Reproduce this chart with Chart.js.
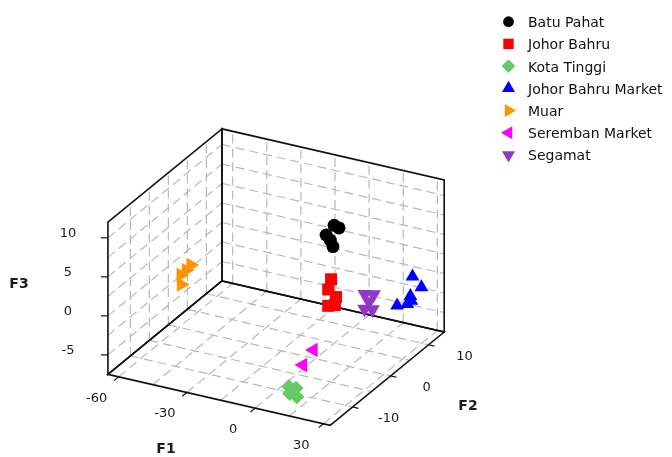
<!DOCTYPE html>
<html>
<head>
<meta charset="utf-8">
<script src="https://cdn.jsdelivr.net/npm/chart.js"></script>
<style>
  html, body { margin: 0; padding: 0; background: #ffffff; }
  #wrap { width: 672px; height: 457px; position: relative; }
</style>
</head>
<body>
<div id="wrap"><canvas id="c" width="672" height="457"></canvas></div>
<script>
// ---------- data (F1, F2, F3 scores per group) ----------
const seriesNames = ['Batu Pahat', 'Johor Bahru', 'Kota Tinggi', 'Johor Bahru Market', 'Muar', 'Seremban Market', 'Segamat'];

const batuPahatF1 = [10, 10, 10, 10, 10];
const batuPahatF2 = [-1.1, 0.2, -3.2, -2.1, -1.4];
const batuPahatF3 = [10.7, 9.85, 10.3, 9.2, 8.1];

const johorBahruF1 = [10, 10, 10, 10, 10];
const johorBahruF2 = [-1.9, -2.65, -0.6, -2.65, -0.9];
const johorBahruF3 = [4.1, 3.1, 1.3, 1.0, 0.4];

const kotaTinggiF1 = [10, 10, 10, 10, 10];
const kotaTinggiF2 = [-13.0, -11.1, -12.8, -10.9, -12.0];
const kotaTinggiF3 = [-5.2, -6.2, -6.2, -7.36, -6.13];

const jbMarketF1 = [25, 28, 25, 25, 25, 25];
const jbMarketF2 = [10.55, 11.1, 10.0, 10.25, 6.5, 9.2];
const jbMarketF3 = [0.5, -0.9, -1.8, -2.5, -1.6, -2.5];

const muarF1 = [-60, -60, -60, -60];
const muarF2 = [3.1, 1.85, 0.47, 0.57];
const muarF3 = [-0.75, -0.9, -0.97, -2.24];

const serembanF1 = [5, 5];
const serembanF2 = [-3.55, -6.3];
const serembanF3 = [-4.64, -5.48];

const segamatF1 = [15, 15, 15, 15, 15];
const segamatF2 = [4.0, 6.3, 5.1, 3.9, 6.0];
const segamatF3 = [0.15, -0.77, -1.24, -1.7, -2.6];

// axis ranges, ticks and grid values
const f1Range = [-64.7, 33];
const f2Range = [-15.9, 14.1];
const f3Range = [-7.5, 12];
const f1Ticks = [-60, -30, 0, 30];
const f2Ticks = [-10, 0, 10];
const f3Ticks = [-5, 0, 5, 10];
const f1Grid = [-60, -45, -30, -15, 0, 15, 30];
const f2Grid = [-10, -5, 0, 5, 10];
const f3Grid = [-5, -2.5, 0, 2.5, 5, 7.5, 10];

// ---------- styling ----------
const colors = ['#000000', '#ff0000', '#66c866', '#0000ff', '#ff9400', '#ff00ff', '#9138c8'];
const styles = ['circle', 'rect', 'rectRot', 'triangle', 'triangle', 'triangle', 'triangle'];
const rotations = [0, 0, 0, 0, 90, 270, 180];
const radii = [6.5, 8.5, 7.5, 8, 8.5, 8.5, 8.5];

// oblique projection of the box (layout, in the chart's abstract plane units)
const ORIGIN = [102, 380];
const E1 = [228, 53];
const E2 = [117, -97];
const E3 = [0, -158];

function project(f1, f2, f3) {
  const u1 = (f1 - f1Range[0]) / (f1Range[1] - f1Range[0]);
  const u2 = (f2 - f2Range[0]) / (f2Range[1] - f2Range[0]);
  const u3 = (f3 - f3Range[0]) / (f3Range[1] - f3Range[0]);
  return {
    x: ORIGIN[0] + u1 * E1[0] + u2 * E2[0] + u3 * E3[0],
    y: ORIGIN[1] + u1 * E1[1] + u2 * E2[1] + u3 * E3[1]
  };
}

const groups = [
  [batuPahatF1, batuPahatF2, batuPahatF3],
  [johorBahruF1, johorBahruF2, johorBahruF3],
  [kotaTinggiF1, kotaTinggiF2, kotaTinggiF3],
  [jbMarketF1, jbMarketF2, jbMarketF3],
  [muarF1, muarF2, muarF3],
  [serembanF1, serembanF2, serembanF3],
  [segamatF1, segamatF2, segamatF3]
];

const datasets = groups.map((g, i) => ({
  label: seriesNames[i],
  data: g[0].map((v, k) => project(v, g[1][k], g[2][k])),
  pointStyle: styles[i],
  pointRotation: rotations[i],
  pointRadius: radii[i],
  pointHoverRadius: radii[i],
  pointBackgroundColor: colors[i],
  pointBorderColor: colors[i],
  pointBorderWidth: 0,
  backgroundColor: colors[i],
  borderColor: colors[i],
  showLine: false
}));

function drawMarker(ctx, style, x, y, r, rotDeg) {
  const rad = rotDeg * Math.PI / 180;
  ctx.beginPath();
  if (style === 'circle') {
    ctx.arc(x, y, r, 0, Math.PI * 2);
  } else if (style === 'rect') {
    ctx.rect(x - r, y - r, 2 * r, 2 * r);
  } else if (style === 'rectRot') {
    ctx.moveTo(x, y - r); ctx.lineTo(x + r, y); ctx.lineTo(x, y + r); ctx.lineTo(x - r, y);
  } else {
    let a = rad;
    ctx.moveTo(x + Math.sin(a) * r, y - Math.cos(a) * r);
    a += 2 * Math.PI / 3;
    ctx.lineTo(x + Math.sin(a) * r, y - Math.cos(a) * r);
    a += 2 * Math.PI / 3;
    ctx.lineTo(x + Math.sin(a) * r, y - Math.cos(a) * r);
  }
  ctx.closePath();
  ctx.fill();
}

const boxPlugin = {
  id: 'box3d',
  beforeDatasetsDraw(chart) {
    const ctx = chart.ctx;
    const xs = chart.scales.x, ys = chart.scales.y;
    const P = (a, b, c) => {
      const p = project(a, b, c);
      return [xs.getPixelForValue(p.x), ys.getPixelForValue(p.y)];
    };
    const line = (p, q) => { ctx.beginPath(); ctx.moveTo(p[0], p[1]); ctx.lineTo(q[0], q[1]); ctx.stroke(); };
    const [a0, a1] = f1Range, [b0, b1] = f2Range, [c0, c1] = f3Range;

    ctx.save();
    // dashed grid
    ctx.strokeStyle = '#b8b8b8';
    ctx.lineWidth = 1.2;
    ctx.setLineDash([9, 5]);
    f1Grid.forEach(g => { line(P(g, b1, c0), P(g, b1, c1)); line(P(g, b0, c0), P(g, b1, c0)); });
    f2Grid.forEach(g => { line(P(a0, g, c0), P(a0, g, c1)); line(P(a0, g, c0), P(a1, g, c0)); });
    f3Grid.forEach(g => { line(P(a0, b1, g), P(a1, b1, g)); line(P(a0, b0, g), P(a0, b1, g)); });
    ctx.setLineDash([]);

    // solid box edges
    ctx.strokeStyle = '#111111';
    ctx.lineWidth = 1.6;
    const poly = pts => { ctx.beginPath(); pts.forEach((p, i) => i ? ctx.lineTo(p[0], p[1]) : ctx.moveTo(p[0], p[1])); ctx.closePath(); ctx.stroke(); };
    poly([P(a0, b1, c0), P(a1, b1, c0), P(a1, b1, c1), P(a0, b1, c1)]);
    poly([P(a0, b0, c0), P(a0, b1, c0), P(a0, b1, c1), P(a0, b0, c1)]);
    poly([P(a0, b0, c0), P(a1, b0, c0), P(a1, b1, c0), P(a0, b1, c0)]);

    // ticks
    ctx.lineWidth = 1.2;
    ctx.fillStyle = '#1a1a1a';
    ctx.font = '13px "DejaVu Sans", Verdana, sans-serif';
    ctx.textAlign = 'center';
    ctx.textBaseline = 'alphabetic';
    const e2n = Math.hypot(E2[0], E2[1]), e1n = Math.hypot(E1[0], E1[1]);
    f1Ticks.forEach(t => {
      const p = P(t, b0, c0);
      line(p, [p[0] - 6 * E2[0] / e2n, p[1] - 6 * E2[1] / e2n]);
      ctx.fillText(String(t), p[0] - 22, p[1] + 25);
    });
    f2Ticks.forEach(t => {
      const p = P(a1, t, c0);
      line(p, [p[0] + 6 * E1[0] / e1n, p[1] + 6 * E1[1] / e1n]);
      ctx.fillText(String(t), p[0] + 36, p[1] + 15);
    });
    f3Ticks.forEach(t => {
      const p = P(a0, b0, t);
      line(p, [p[0] - 7, p[1]]);
      ctx.fillText(String(t), p[0] - 40, p[1] - 1);
    });

    // axis titles
    ctx.font = 'bold 14px "DejaVu Sans", Verdana, sans-serif';
    ctx.fillText('F1', 166, 453);
    ctx.fillText('F2', 468, 410);
    ctx.fillText('F3', 19, 288);
    ctx.restore();
  },
  afterDraw(chart) {
    const ctx = chart.ctx;
    ctx.save();
    ctx.font = '14px "DejaVu Sans", Verdana, sans-serif';
    ctx.textAlign = 'left';
    ctx.textBaseline = 'alphabetic';
    const legendR = [5.4, 5.2, 6.8, 7.5, 7.5, 7.5, 7.5];
    seriesNames.forEach((name, i) => {
      const y = 21.7 + i * 22.2;
      ctx.fillStyle = colors[i];
      drawMarker(ctx, styles[i], 508.5, y, legendR[i], rotations[i]);
      ctx.fillStyle = '#111111';
      ctx.fillText(name, 528, y + 5.5);
    });
    ctx.restore();
  }
};

new Chart(document.getElementById('c'), {
  type: 'scatter',
  data: { datasets },
  options: {
    responsive: false,
    animation: false,
    events: [],
    layout: { padding: 0 },
    plugins: { legend: { display: false }, tooltip: { enabled: false } },
    elements: { point: { borderWidth: 0 } },
    clip: false,
    scales: {
      x: { type: 'linear', min: 0, max: 672, display: false },
      y: { type: 'linear', min: 0, max: 457, reverse: true, display: false }
    }
  },
  plugins: [boxPlugin]
});
</script>
</body>
</html>
